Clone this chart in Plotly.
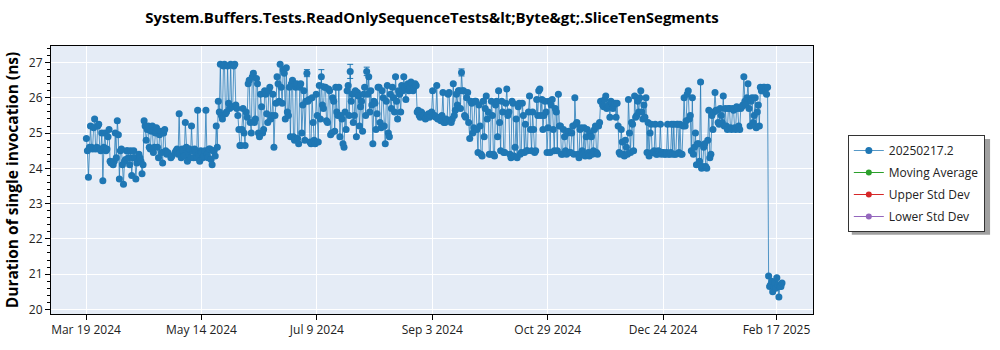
import plotly.graph_objects as go

# Benchmark results: two runs per day (early and late build), mean duration in ns
run_dates = [
    "2024-03-19", "2024-03-20", "2024-03-21", "2024-03-22", "2024-03-23", "2024-03-24", "2024-03-25",
    "2024-03-26", "2024-03-27", "2024-03-28", "2024-03-29", "2024-03-30", "2024-03-31",
    "2024-04-01", "2024-04-02", "2024-04-03", "2024-04-04", "2024-04-05", "2024-04-06", "2024-04-07",
    "2024-04-08", "2024-04-09", "2024-04-10", "2024-04-11", "2024-04-12", "2024-04-13", "2024-04-14",
    "2024-04-15", "2024-04-16", "2024-04-17", "2024-04-18", "2024-04-19", "2024-04-20", "2024-04-21",
    "2024-04-22", "2024-04-23", "2024-04-24", "2024-04-25", "2024-04-26", "2024-04-27", "2024-04-29",
    "2024-05-01", "2024-05-02", "2024-05-03", "2024-05-04", "2024-05-05", "2024-05-06", "2024-05-07",
    "2024-05-08", "2024-05-09", "2024-05-10", "2024-05-11", "2024-05-12", "2024-05-13", "2024-05-14",
    "2024-05-15", "2024-05-16", "2024-05-17", "2024-05-18", "2024-05-19", "2024-05-20", "2024-05-21",
    "2024-05-22", "2024-05-23", "2024-05-24", "2024-05-25", "2024-05-26", "2024-05-27", "2024-05-28",
    "2024-05-29", "2024-05-30", "2024-05-31",
    "2024-06-01", "2024-06-02", "2024-06-03", "2024-06-04", "2024-06-05", "2024-06-06", "2024-06-07",
    "2024-06-08", "2024-06-09", "2024-06-10", "2024-06-11", "2024-06-12", "2024-06-13", "2024-06-14",
    "2024-06-15", "2024-06-16", "2024-06-17", "2024-06-18", "2024-06-19", "2024-06-20", "2024-06-21",
    "2024-06-22", "2024-06-23", "2024-06-24", "2024-06-25", "2024-06-26", "2024-06-27", "2024-06-28",
    "2024-06-29", "2024-06-30",
    "2024-07-01", "2024-07-02", "2024-07-03", "2024-07-04", "2024-07-05", "2024-07-06", "2024-07-07",
    "2024-07-08", "2024-07-09", "2024-07-10", "2024-07-11", "2024-07-12", "2024-07-13", "2024-07-14",
    "2024-07-15", "2024-07-16", "2024-07-17", "2024-07-18", "2024-07-19", "2024-07-20", "2024-07-21",
    "2024-07-22", "2024-07-23", "2024-07-24", "2024-07-25", "2024-07-26", "2024-07-27", "2024-07-28",
    "2024-07-29", "2024-07-30", "2024-07-31",
    "2024-08-01", "2024-08-02", "2024-08-03", "2024-08-04", "2024-08-05", "2024-08-06", "2024-08-07",
    "2024-08-08", "2024-08-09", "2024-08-10", "2024-08-11", "2024-08-12", "2024-08-13", "2024-08-14",
    "2024-08-15", "2024-08-16", "2024-08-17", "2024-08-18", "2024-08-19", "2024-08-20", "2024-08-21",
    "2024-08-22", "2024-08-23", "2024-08-24", "2024-08-25", "2024-08-26", "2024-08-27", "2024-08-28",
    "2024-08-29", "2024-08-30", "2024-08-31",
    "2024-09-01", "2024-09-02", "2024-09-03", "2024-09-04", "2024-09-05", "2024-09-06", "2024-09-07",
    "2024-09-08", "2024-09-09", "2024-09-10", "2024-09-11", "2024-09-12", "2024-09-13", "2024-09-14",
    "2024-09-15", "2024-09-16", "2024-09-17", "2024-09-18", "2024-09-19", "2024-09-20", "2024-09-21",
    "2024-09-22", "2024-09-23", "2024-09-24", "2024-09-25", "2024-09-26", "2024-09-27", "2024-09-28",
    "2024-09-29", "2024-09-30",
    "2024-10-01", "2024-10-02", "2024-10-03", "2024-10-04", "2024-10-05", "2024-10-06", "2024-10-07",
    "2024-10-08", "2024-10-09", "2024-10-10", "2024-10-11", "2024-10-12", "2024-10-13", "2024-10-14",
    "2024-10-15", "2024-10-16", "2024-10-17", "2024-10-18", "2024-10-19", "2024-10-20", "2024-10-21",
    "2024-10-22", "2024-10-23", "2024-10-24", "2024-10-25", "2024-10-26", "2024-10-27", "2024-10-28",
    "2024-10-29", "2024-10-30", "2024-10-31",
    "2024-11-01", "2024-11-02", "2024-11-03", "2024-11-04", "2024-11-05", "2024-11-06", "2024-11-07",
    "2024-11-08", "2024-11-09", "2024-11-10", "2024-11-11", "2024-11-12", "2024-11-13", "2024-11-14",
    "2024-11-15", "2024-11-16", "2024-11-17", "2024-11-18", "2024-11-19", "2024-11-20", "2024-11-21",
    "2024-11-22", "2024-11-23", "2024-11-24", "2024-11-25", "2024-11-26", "2024-11-27", "2024-11-28",
    "2024-11-29", "2024-11-30",
    "2024-12-01", "2024-12-02", "2024-12-03", "2024-12-04", "2024-12-05", "2024-12-06", "2024-12-07",
    "2024-12-08", "2024-12-09", "2024-12-10", "2024-12-11", "2024-12-12", "2024-12-13", "2024-12-14",
    "2024-12-15", "2024-12-16", "2024-12-17", "2024-12-18", "2024-12-19", "2024-12-20", "2024-12-21",
    "2024-12-22", "2024-12-23", "2024-12-24", "2024-12-25", "2024-12-26", "2024-12-27", "2024-12-28",
    "2024-12-29", "2024-12-30", "2024-12-31",
    "2025-01-01", "2025-01-02", "2025-01-03", "2025-01-04", "2025-01-05", "2025-01-06", "2025-01-07",
    "2025-01-08", "2025-01-09", "2025-01-10", "2025-01-11", "2025-01-12", "2025-01-13", "2025-01-14",
    "2025-01-15", "2025-01-16", "2025-01-17", "2025-01-18", "2025-01-19", "2025-01-20", "2025-01-21",
    "2025-01-22", "2025-01-23", "2025-01-24", "2025-01-25", "2025-01-26", "2025-01-27", "2025-01-28",
    "2025-01-29", "2025-01-30", "2025-01-31",
    "2025-02-01", "2025-02-02", "2025-02-03", "2025-02-04", "2025-02-05", "2025-02-06", "2025-02-07",
    "2025-02-08", "2025-02-09", "2025-02-10", "2025-02-11", "2025-02-12", "2025-02-13", "2025-02-14",
    "2025-02-15", "2025-02-16", "2025-02-17", "2025-02-18", "2025-02-19",
]

# Early run of each day
early_run_ns = [
    # March 2024
    24.85, 23.75, 25.2, 24.55, 25.4, 24.6, 25.25, 24.5, 23.65, 25.0, 24.55, 25.1, 24.15,
    # April 2024
    24.1, 25.0, 25.35, 23.7, 24.55, 23.55, 24.25, 24.5, 24.1, 23.8, 24.5, 23.7, 24.2, 24.3,
    23.85, 25.35, 24.8, 25.2, 24.55, 25.2, 24.6, 25.15, 24.3, 25.05, 24.15, 25.1, 24.4, 24.3,
    # May 2024
    24.45, 24.55, 25.55, 24.3, 24.5, 25.3, 24.2, 24.55, 25.2, 24.3, 24.45, 25.65, 24.2, 24.45,
    24.35, 25.65, 24.3, 24.55, 24.1, 24.5, 25.2, 25.9, 26.95, 25.4, 26.95, 25.6, 25.85, 26.95,
    25.75, 26.95, 25.7,
    # June 2024
    25.1, 24.65, 25.7, 24.65, 25.45, 26.5, 25.0, 26.7, 25.4, 26.4, 24.9, 25.75, 25.1, 26.1,
    25.3, 26.3, 25.5, 24.6, 25.85, 26.4, 26.95, 25.85, 26.7, 26.85, 25.5, 24.9, 26.5, 24.8,
    26.4, 24.7,
    # July 2024
    26.4, 25.8, 24.8, 26.7, 25.95, 24.7, 25.3, 24.7, 25.5, 26.35, 26.6, 25.7, 26.3, 25.3,
    26.2, 25.0, 25.9, 26.3, 25.5, 24.9, 25.4, 24.6, 25.1, 26.35, 26.75, 26.1, 25.5, 24.9,
    26.05, 25.75, 25.05,
    # August 2024
    26.3, 26.75, 26.6, 26.2, 24.7, 25.85, 25.55, 26.3, 25.15, 26.0, 24.7, 26.35, 24.9, 25.7,
    26.0, 26.6, 25.4, 26.1, 26.35, 26.6, 25.95, 26.4, 26.3, 26.4, 26.3, 26.35, 25.65, 25.45,
    25.55, 25.5, 25.45,
    # September 2024
    25.55, 25.5, 26.2, 25.5, 26.35, 25.4, 25.35, 26.15, 25.3, 25.35, 26.15, 25.3, 26.4, 25.65,
    25.8, 26.2, 26.72, 26.2, 25.45, 26.15, 24.85, 25.85, 25.15, 25.9, 24.45, 25.2, 24.35, 24.9,
    26.05, 25.6,
    # October 2024
    24.4, 25.5, 24.35, 25.9, 26.2, 24.5, 25.6, 24.45, 26.25, 25.6, 24.3, 25.85, 24.6, 24.3,
    25.85, 24.45, 25.5, 25.25, 24.5, 26.05, 24.5, 25.1, 24.5, 25.5, 26.25, 25.95, 25.5, 25.6,
    25.15, 24.45, 25.95,
    # November 2024
    24.5, 25.6, 26.1, 25.2, 24.4, 24.9, 24.4, 25.05, 24.45, 25.2, 26.0, 25.3, 24.3, 25.15,
    24.4, 24.35, 25.1, 24.35, 24.9, 24.5, 25.2, 24.4, 25.3, 25.9, 25.75, 26.05, 25.75, 25.45,
    25.85, 25.8,
    # December 2024
    25.45, 25.2, 24.4, 24.75, 24.35, 24.6, 25.95, 24.45, 25.25, 26.05, 25.5, 25.6, 26.2, 25.4,
    25.45, 24.45, 24.35, 25.25, 24.45, 25.25, 24.4, 24.45, 24.4, 24.45, 24.4, 25.25, 24.4, 25.25,
    25.25, 24.4, 25.25,
    # January 2025
    25.25, 24.4, 26.0, 25.35, 26.2, 25.5, 26.0, 24.6, 24.1, 24.7, 26.45, 24.05, 24.7, 24.0,
    25.65, 24.4, 25.1, 26.15, 25.65, 25.25, 25.5, 26.05, 25.7, 25.1, 25.7, 25.1, 25.65, 25.1,
    25.7, 25.1, 25.75,
    # February 2025
    26.6, 25.8, 26.4, 25.2, 26.0, 25.5, 25.15, 25.8, 26.3, 26.2, 26.3, 26.1, 20.95, 20.7,
    20.5, 20.75, 20.9, 20.35, 20.65,
]

# Late run of each day
late_run_ns = [
    # March 2024
    24.5, 24.6, 24.6, 25.15, 24.55, 25.2, 24.55, 25.0, 24.6, 24.5, 24.9, 24.2, 24.15,
    # April 2024
    24.2, 24.3, 24.95, 24.5, 24.1, 24.2, 24.5, 24.3, 24.5, 24.3, 24.3, 24.15, 24.4, 24.2,
    24.1, 25.2, 25.1, 24.6, 25.05, 24.45, 25.0, 24.6, 24.95, 24.45, 25.0, 24.5, 24.45, 24.35,
    # May 2024
    24.5, 24.4, 24.45, 24.55, 24.35, 24.6, 24.45, 24.3, 24.5, 24.55, 24.3, 24.4, 24.5, 24.3,
    24.5, 24.4, 24.55, 24.25, 24.5, 24.35, 24.6, 25.6, 25.5, 26.9, 25.55, 26.9, 25.7, 25.75,
    26.9, 25.8, 25.5,
    # June 2024
    24.65, 25.1, 25.0, 25.6, 26.4, 25.3, 26.6, 25.3, 26.55, 25.0, 26.1, 25.0, 26.2, 25.55,
    26.2, 25.4, 26.1, 25.5, 26.6, 25.9, 26.3, 26.8, 25.4, 25.6, 26.3, 26.4, 24.9, 26.3,
    24.85, 26.3,
    # July 2024
    25.0, 26.2, 25.9, 25.9, 24.75, 26.0, 24.8, 26.1, 24.75, 25.4, 25.8, 26.3, 25.35, 26.25,
    24.95, 26.0, 25.05, 25.6, 26.3, 25.5, 24.7, 25.6, 26.2, 25.5, 25.9, 25.3, 26.2, 26.15,
    25.2, 25.9, 26.1,
    # August 2024
    25.5, 26.1, 25.6, 25.8, 25.9, 25.1, 26.3, 25.3, 26.2, 25.2, 25.9, 25.0, 26.1, 26.3,
    25.6, 25.9, 26.2, 25.6, 26.2, 26.3, 26.35, 26.2, 26.45, 26.2, 26.4, 25.6, 25.5, 25.6,
    25.5, 25.4, 25.5,
    # September 2024
    25.45, 25.6, 25.5, 25.45, 25.4, 25.45, 25.5, 25.3, 25.4, 26.1, 25.35, 25.4, 25.5, 26.1,
    26.2, 25.7, 26.2, 25.5, 26.0, 25.3, 25.9, 25.0, 25.9, 25.1, 25.8, 24.4, 25.9, 25.7,
    25.4, 24.4,
    # October 2024
    25.9, 24.4, 25.8, 24.9, 25.3, 25.9, 24.45, 25.85, 25.5, 24.4, 25.9, 24.35, 25.4, 25.75,
    24.4, 25.85, 24.45, 24.5, 25.6, 25.1, 25.6, 24.45, 25.95, 26.2, 25.5, 25.1, 25.9, 24.45,
    25.9, 25.8, 25.1,
    # November 2024
    25.7, 24.5, 25.2, 24.4, 25.1, 24.5, 25.0, 24.45, 25.0, 24.4, 25.25, 24.4, 25.1, 24.5,
    25.15, 24.9, 24.45, 25.0, 24.4, 25.1, 24.45, 25.2, 25.9, 25.8, 25.95, 25.7, 25.8, 25.9,
    25.7, 25.85,
    # December 2024
    25.85, 24.45, 25.1, 24.4, 24.8, 24.4, 25.0, 25.3, 24.5, 25.45, 25.9, 26.0, 25.6, 25.8,
    26.0, 25.3, 25.0, 24.45, 24.5, 24.4, 24.5, 25.25, 24.45, 24.4, 24.45, 24.4, 24.45, 24.4,
    24.4, 25.25, 24.45,
    # January 2025
    24.4, 25.2, 25.2, 26.1, 25.4, 24.5, 24.4, 25.0, 24.7, 24.2, 24.0, 24.6, 24.05, 24.8,
    24.3, 25.5, 25.6, 25.65, 25.3, 25.7, 25.3, 25.2, 25.2, 25.7, 25.15, 25.7, 25.15, 25.75,
    25.2, 25.7, 25.8,
    # February 2025
    25.9, 26.0, 25.7, 25.9, 25.3, 26.0, 25.6, 25.2, 26.2, 26.3, 26.25, 26.3, 20.65, 20.8,
    20.65, 20.6, 20.7, 20.65, 20.75,
]

# Runs whose standard deviation is wide enough to show past the marker
std_dev_overrides = {
    "2024-07-04": 0.1,
    "2024-07-11": 0.2,
    "2024-07-25": 0.2,
    "2024-08-02": 0.12,
    "2024-09-17": 0.1,
}
default_std_dev = 0.03

tick_dates = ["2024-03-19", "2024-05-14", "2024-07-09", "2024-09-03",
              "2024-10-29", "2024-12-24", "2025-02-17"]
tick_labels = ["Mar 19 2024", "May 14 2024", "Jul 9 2024", "Sep 3 2024",
               "Oct 29 2024", "Dec 24 2024", "Feb 17 2025"]

chart_title = "System.Buffers.Tests.ReadOnlySequenceTests&lt;Byte&gt;.SliceTenSegments"
series_name = "20250217.2"

assert len(run_dates) == len(early_run_ns) == len(late_run_ns)

# merge both runs of each day into one chronological series
times, values, errs = [], [], []
for d, early, late in zip(run_dates, early_run_ns, late_run_ns):
    times += [d + " 04:00", d + " 16:00"]
    values += [early, late]
    errs += [std_dev_overrides.get(d, default_std_dev), default_std_dev]

BLUE = "#1f77b4"
FONT = "Open Sans"

fig = go.Figure()
fig.add_trace(go.Scatter(
    x=times, y=values, name=series_name, mode="lines+markers",
    line=dict(color="rgba(31,119,180,0.75)", width=1),
    marker=dict(color=BLUE, size=7),
    error_y=dict(type="data", array=errs, visible=True, color=BLUE,
                 thickness=1, width=3),
    legendgroup="a",
))
for nm, col, grp in [("Moving Average", "#2ca02c", "b"),
                     ("Upper Std Dev", "#d62728", "c"),
                     ("Lower Std Dev", "#9467bd", "d")]:
    fig.add_trace(go.Scatter(x=[None], y=[None], name=nm, mode="lines+markers",
                             line=dict(color=col, width=1), marker=dict(color=col, size=6),
                             legendgroup=grp))

# drop shadow behind the legend box
fig.add_shape(type="rect", xref="paper", yref="paper",
              x0=(852 - 47) / 766, x1=(991 - 47) / 766,
              y0=(320 - 239) / 274, y1=(320 - 141) / 274,
              fillcolor="#a0a0a0", line=dict(width=0), layer="above")

fig.update_layout(
    width=1000, height=350,
    margin=dict(l=47, r=187, t=46, b=30),
    paper_bgcolor="white", plot_bgcolor="#e5ecf6",
    font=dict(family=FONT, size=12, color="#222"),
    title=dict(text="<b>" + chart_title.replace("&", "&amp;") + "</b>",
               x=0.5, xref="paper", xanchor="center",
               y=1 - 18 / 350, yanchor="middle", font=dict(size=15, color="black")),
    legend=dict(x=(848 - 47) / 766, y=(320 - 137) / 274, xanchor="left", yanchor="top",
                bgcolor="white", bordercolor="#333", borderwidth=1,
                font=dict(size=12, color="#222"), tracegroupgap=3),
    showlegend=True,
)
fig.update_xaxes(
    type="date", range=["2024-03-02", "2025-03-06 17:00"],
    tickvals=tick_dates, ticktext=tick_labels,
    showgrid=True, gridcolor="white", gridwidth=1,
    showline=True, linecolor="black", linewidth=1, mirror=True,
    ticks="outside", ticklen=5, tickcolor="black", zeroline=False,
)
fig.update_yaxes(
    range=[19.87, 27.47], dtick=1, tick0=20,
    title=dict(text="<b>Duration of single invocation (ns)</b>", font=dict(size=15.5, color="black"),
               standoff=6),
    showgrid=True, gridcolor="white", gridwidth=1,
    showline=True, linecolor="black", linewidth=1, mirror=True,
    ticks="outside", ticklen=5, tickcolor="black", zeroline=False,
    minor=dict(dtick=0.2, ticks="outside", ticklen=3, tickcolor="black", showgrid=False),
)

fig.write_html("out.html")
